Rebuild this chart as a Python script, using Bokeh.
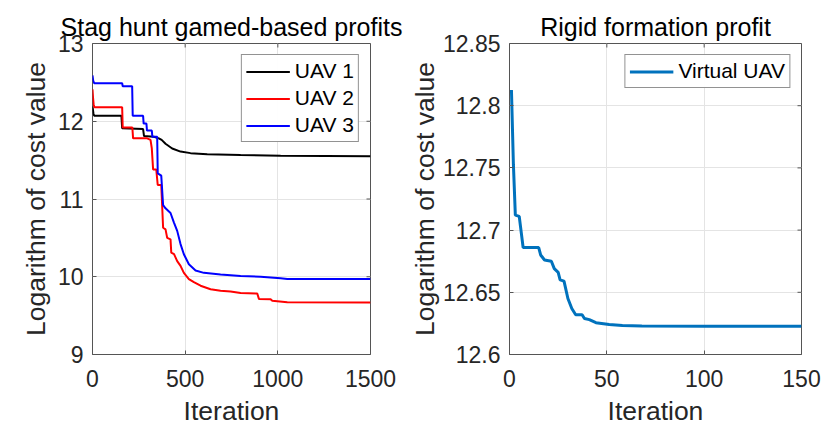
from bokeh.plotting import figure
from bokeh.layouts import row
from bokeh.models import FixedTicker, Range1d
from bokeh.embed import file_html
from bokeh.resources import INLINE

FONT = "Liberation Sans"

# ---------------- texts ----------------
left_title = "Stag hunt gamed-based profits"
right_title = "Rigid formation profit"
x_label = "Iteration"
y_label = "Logarithm of cost value"

# ---------------- data: left panel ----------------
uav1_x = [0, 5, 9, 156, 160, 273, 278, 331, 358, 373, 394, 430, 475, 529, 619, 799, 1015, 1500]
uav1_y = [12.19, 12.10, 12.07, 12.07, 11.91, 11.90, 11.81, 11.80, 11.78, 11.76, 11.71, 11.65,
          11.61, 11.59, 11.575, 11.565, 11.555, 11.55]

uav2_x = [0, 3, 6, 10, 160, 163, 215, 219, 295, 313, 320, 327, 344, 352, 371, 381, 394, 403,
          421, 425, 440, 457, 475, 493, 520, 547, 583, 637, 691, 745, 799, 889, 898, 961, 970,
          1051, 1500]
uav2_y = [12.41, 12.30, 12.22, 12.18, 12.18, 11.92, 11.92, 11.78, 11.78, 11.76, 11.65, 11.38,
          11.38, 11.18, 11.18, 10.63, 10.61, 10.50, 10.48, 10.31, 10.29, 10.20, 10.14, 10.05,
          9.97, 9.93, 9.885, 9.84, 9.82, 9.81, 9.79, 9.785, 9.715, 9.71, 9.69, 9.673, 9.67]

uav3_x = [0, 4, 9, 160, 163, 214, 217, 273, 276, 291, 294, 320, 323, 349, 352, 371, 381, 394,
          421, 439, 457, 475, 493, 520, 556, 601, 691, 799, 907, 1015, 1051, 1500]
uav3_y = [12.59, 12.52, 12.49, 12.49, 12.45, 12.45, 12.07, 12.07, 11.97, 11.97, 11.88, 11.88,
          11.80, 11.80, 11.33, 11.30, 10.92, 10.88, 10.82, 10.70, 10.59, 10.42, 10.29, 10.16,
          10.08, 10.05, 10.03, 10.01, 10.0, 9.98, 9.97, 9.97]

left_x_range = (0, 1500)
left_y_range = (9, 13)
left_x_ticks = [0, 500, 1000, 1500]
left_y_ticks = [9, 10, 11, 12, 13]

# ---------------- data: right panel ----------------
virt_x = [1, 2, 3, 5, 7, 15, 16, 18, 21.5, 23, 25, 26, 28, 30, 32, 34, 37.3, 38.5, 41, 44.4,
          51.2, 58, 68, 100, 150]
virt_y = [12.8126, 12.753, 12.712, 12.711, 12.686, 12.686, 12.680, 12.676, 12.675, 12.669,
          12.666, 12.660, 12.659, 12.645, 12.637, 12.632, 12.632, 12.629, 12.628, 12.6256,
          12.6242, 12.6234, 12.6230, 12.6228, 12.6228]

right_x_range = (0, 150)
right_y_range = (12.6, 12.85)
right_x_ticks = [0, 50, 100, 150]
right_y_ticks = [12.6, 12.65, 12.7, 12.75, 12.8, 12.85]
right_y_tick_labels = ["12.6", "12.65", "12.7", "12.75", "12.8", "12.85"]

AX = "#262626"
BOX = "#555555"
GRID = "#e4e4e4"


def style(p, xr, yr, xt, yt, ylab_standoff):
    p.outline_line_color = BOX
    p.outline_line_width = 1
    p.title.text_font = FONT
    p.title.text_font_size = "25px"
    p.title.text_font_style = "normal"
    p.title.text_color = "black"
    p.title.align = "center"
    p.title.standoff = 5
    p.xaxis.ticker = FixedTicker(ticks=xt)
    p.yaxis.ticker = FixedTicker(ticks=yt)
    for ax in (p.xaxis[0], p.yaxis[0]):
        ax.axis_line_color = None
        ax.major_tick_line_color = BOX
        ax.major_tick_in = 4
        ax.major_tick_out = 0
        ax.minor_tick_line_color = None
        ax.major_label_text_font = FONT
        ax.major_label_text_font_size = "23px"
        ax.major_label_text_color = AX
        ax.axis_label_text_font = FONT
        ax.axis_label_text_font_size = "26.5px"
        ax.axis_label_text_font_style = "normal"
        ax.axis_label_text_color = AX
    p.xaxis.axis_label = x_label
    p.yaxis.axis_label = y_label
    p.xaxis.major_label_standoff = 15
    p.xaxis.axis_label_standoff = 6
    p.yaxis.major_label_standoff = 9
    p.yaxis.axis_label_standoff = ylab_standoff
    p.xgrid.grid_line_color = GRID
    p.ygrid.grid_line_color = GRID
    # mirrored tick marks on the top and right edges of the box
    p.ray(x=xt, y=[yr[1]] * len(xt), length=4, length_units="screen",
          angle=-90, angle_units="deg", line_color=BOX, line_width=1)
    p.ray(x=[xr[1]] * len(yt), y=yt, length=4, length_units="screen",
          angle=180, angle_units="deg", line_color=BOX, line_width=1)
    lg = p.legend[0]
    lg.location = "top_right"
    lg.margin = 11
    lg.padding = 4
    lg.spacing = 3
    lg.label_height = 21
    lg.glyph_height = 21
    lg.glyph_width = 44
    lg.label_standoff = 5
    lg.label_text_font = FONT
    lg.label_text_font_size = "21px"
    lg.label_text_color = "black"
    lg.border_line_color = AX
    lg.border_line_width = 1


p1 = figure(width=406, height=433, x_range=Range1d(*left_x_range), y_range=Range1d(*left_y_range),
            output_backend="svg", toolbar_location=None, title=left_title,
            min_border_left=92, min_border_right=36, min_border_top=43, min_border_bottom=77)
p1.line(uav1_x, uav1_y, line_color="black", line_width=2, legend_label="UAV 1")
p1.line(uav2_x, uav2_y, line_color="#ff0000", line_width=2, legend_label="UAV 2")
p1.line(uav3_x, uav3_y, line_color="#0000ff", line_width=2, legend_label="UAV 3")
style(p1, left_x_range, left_y_range, left_x_ticks, left_y_ticks, 4)

p2 = figure(width=424, height=433, x_range=Range1d(*right_x_range), y_range=Range1d(*right_y_range),
            output_backend="svg", toolbar_location=None, title=right_title,
            min_border_left=100, min_border_right=29, min_border_top=43, min_border_bottom=79)
p2.line(virt_x, virt_y, line_color="#0072bd", line_width=3, legend_label="Virtual UAV")
style(p2, right_x_range, right_y_range, right_x_ticks, right_y_ticks, 0)
p2.yaxis[0].major_label_overrides = dict(zip(right_y_ticks, right_y_tick_labels))

layout = row(p1, p2)
open("out.html", "w").write(file_html(layout, INLINE))
